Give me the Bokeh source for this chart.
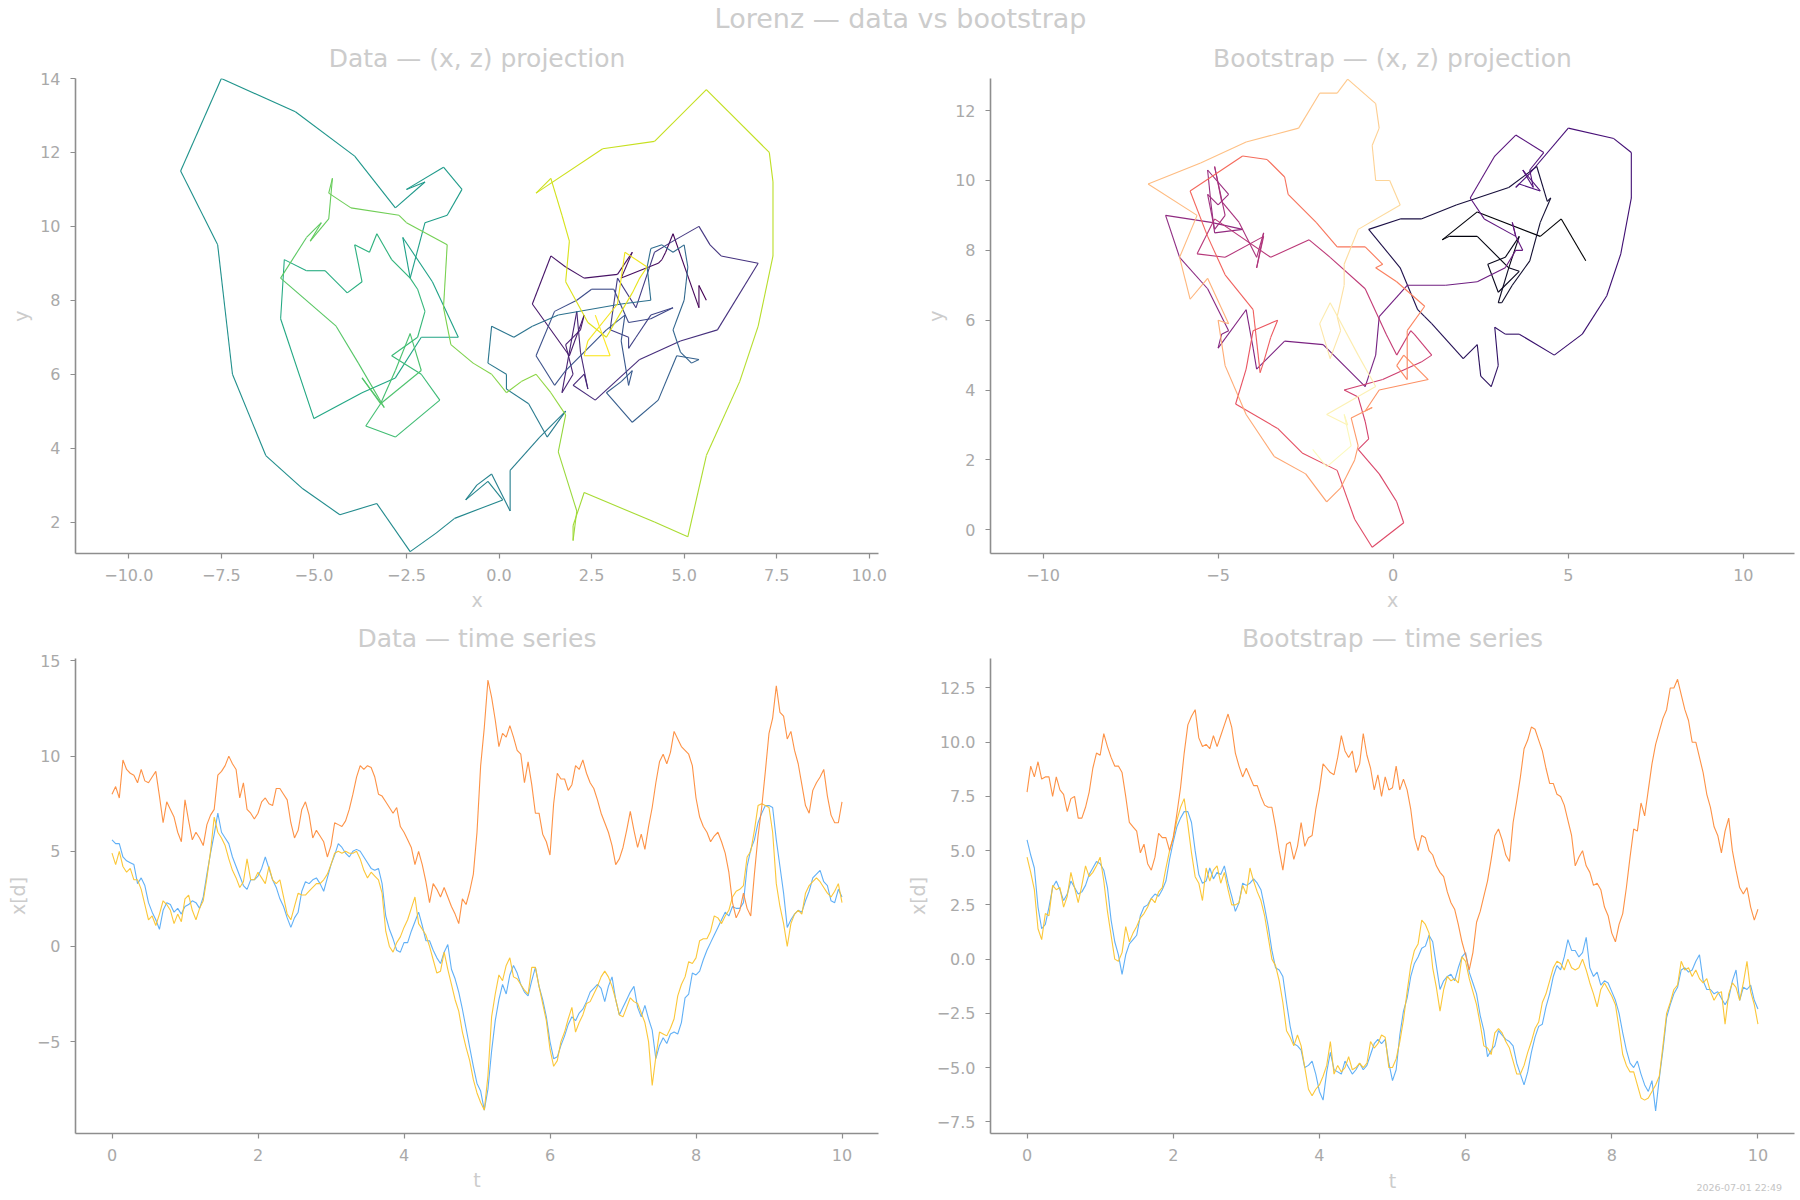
import numpy as np
from bokeh.plotting import figure
from bokeh.layouts import column, row
from bokeh.models import FixedTicker, Label, ColumnDataSource
from bokeh.palettes import Viridis256, Magma256
from bokeh.embed import file_html
from bokeh.resources import INLINE

DT = 0.05

data_x0 = [
    5.6, 5.4, 5.4, 4.7, 4.5, 4.4, 4.3, 3.3, 3.6, 3.2,
    2.3, 1.8, 1.4, 0.9, 1.9, 2.3, 2.2, 1.8, 2.0, 1.7,
    2.1, 2.2, 2.4, 2.3, 2.0, 2.6, 3.8, 4.9, 5.9, 7.0,
    6.0, 5.7, 5.4, 4.7, 4.2, 3.7, 3.2, 3.0, 3.5, 3.5,
    3.7, 4.1, 4.7, 4.1, 3.5, 3.1, 2.5, 2.1, 1.5, 1.0,
    1.5, 1.8, 2.9, 3.4, 3.3, 3.5, 3.6, 3.3, 2.9, 3.6,
    4.3, 4.8, 5.4, 5.2, 4.9, 4.7, 5.0, 5.1, 5.0, 4.7,
    4.4, 4.1, 4.0, 4.1, 3.3, 1.6, 0.9, 0.4, -0.2, -0.3,
    0.2, 0.2, 0.8, 1.3, 1.8, 1.1, 0.3, 0.3, -0.2, -0.6,
    -0.9, -0.3, 0.1, -1.2, -1.7, -2.4, -3.3, -4.3, -5.3, -6.3,
    -7.2, -7.6, -8.6, -7.5, -5.5, -3.9, -2.8, -2.0, -2.5, -1.5,
    -1.0, -1.4, -2.0, -2.4, -2.6, -1.8, -1.1, -2.1, -2.8, -3.7,
    -5.0, -5.9, -5.8, -5.2, -4.7, -4.1, -3.7, -3.9, -3.5, -3.3,
    -2.9, -2.4, -2.2, -2.0, -2.2, -2.9, -2.1, -1.6, -2.8, -3.6,
    -3.2, -2.8, -2.4, -2.1, -3.2, -3.7, -3.1, -3.8, -4.4, -5.9,
    -5.2, -4.8, -5.1, -4.6, -4.5, -4.6, -4.0, -2.7, -2.5, -1.4,
    -1.5, -1.3, -0.7, -0.2, 0.2, 0.6, 1.0, 1.4, 1.8, 1.6,
    2.1, 2.0, 2.0, 2.3, 4.2, 5.1, 5.6, 6.5, 7.0, 7.4,
    7.4, 7.3, 5.6, 4.2, 2.8, 1.0, 1.4, 1.7, 1.9, 1.8,
    2.4, 2.9, 3.6, 3.8, 4.0, 3.4, 3.2, 2.4, 2.3, 3.0,
    2.6,
]

data_x1 = [
    4.9, 4.3, 5.0, 4.2, 3.9, 4.1, 3.5, 3.5, 3.0, 2.2,
    1.4, 1.6, 1.1, 1.7, 2.4, 2.2, 1.9, 1.2, 1.7, 1.3,
    2.5, 2.7, 1.9, 1.4, 2.0, 2.4, 3.6, 5.0, 6.8, 6.0,
    5.7, 5.3, 4.6, 4.0, 3.6, 3.1, 3.4, 4.6, 3.5, 3.5,
    3.9, 3.6, 3.3, 4.2, 3.5, 3.3, 3.5, 2.6, 1.7, 1.4,
    2.1, 2.8, 2.7, 2.7, 2.9, 3.1, 3.3, 3.3, 3.5, 3.8,
    4.3, 4.9, 5.0, 4.9, 5.0, 4.9, 4.9, 5.0, 4.6, 4.0,
    3.6, 3.9, 3.7, 3.5, 2.8, 0.8, 0.0, -0.3, 0.2, 0.5,
    1.0, 1.4, 2.0, 2.6, 1.2, 0.9, 0.6, 0.0, -0.7, -1.4,
    -1.3, -0.3, -1.2, -2.0, -2.8, -3.4, -4.5, -5.3, -6.0, -7.0,
    -7.7, -8.2, -8.6, -6.8, -3.7, -2.5, -1.5, -1.8, -1.0, -0.6,
    -1.6, -1.7, -2.0, -2.3, -2.5, -1.1, -1.1, -2.1, -3.0, -3.9,
    -5.4, -6.3, -6.0, -5.0, -4.5, -3.8, -3.2, -4.5, -4.0, -3.6,
    -3.0, -2.9, -2.5, -2.1, -1.6, -1.3, -1.6, -2.1, -2.8, -3.6,
    -3.7, -3.2, -2.7, -2.9, -3.0, -3.5, -4.0, -5.0, -7.3, -5.8,
    -4.5, -4.6, -4.7, -4.3, -3.8, -2.6, -2.0, -1.6, -0.8, -0.9,
    -0.6, 0.3, 0.4, 0.4, 0.8, 1.6, 1.5, 1.2, 1.6, 1.9,
    2.6, 2.9, 3.0, 3.2, 4.7, 5.0, 6.1, 7.4, 7.5, 7.4,
    7.3, 6.0, 3.3, 2.1, 1.2, 0.0, 1.2, 1.7, 1.9, 1.7,
    2.8, 3.2, 3.4, 3.6, 3.4, 3.1, 2.8, 2.6, 2.9, 3.3,
    2.3,
]

data_x2 = [
    8.0, 8.4, 7.8, 9.8, 9.3, 9.1, 9.0, 8.6, 9.3, 8.7,
    8.6, 8.9, 9.2, 7.9, 6.5, 7.6, 7.2, 6.8, 6.0, 5.5,
    7.7, 6.6, 5.6, 6.0, 5.7, 5.3, 6.4, 6.9, 7.2, 9.0,
    9.2, 9.5, 10.0, 9.6, 9.3, 7.8, 8.6, 7.2, 7.0, 6.7,
    7.0, 7.6, 7.8, 7.5, 7.4, 8.3, 8.3, 8.0, 7.7, 6.5,
    5.7, 6.1, 7.2, 7.6, 6.9, 5.7, 6.1, 5.8, 5.5, 4.7,
    5.3, 6.5, 6.4, 6.3, 6.6, 7.2, 8.0, 8.9, 9.5, 9.3,
    9.5, 9.4, 8.9, 8.0, 7.9, 7.6, 7.3, 7.0, 7.3, 6.3,
    6.0, 5.6, 5.2, 4.3, 5.0, 4.3, 3.4, 2.3, 3.3, 3.0,
    2.6, 3.1, 2.6, 2.1, 1.7, 1.2, 2.5, 2.2, 2.9, 3.8,
    6.0, 9.5, 11.5, 14.0, 13.1, 11.9, 10.5, 11.2, 11.0, 11.6,
    11.0, 10.3, 10.1, 8.6, 9.7, 8.5, 7.0, 7.0, 5.9, 5.5,
    4.8, 7.5, 9.1, 8.8, 8.8, 8.2, 8.5, 9.5, 9.3, 9.8,
    9.1, 8.6, 8.3, 7.7, 7.0, 6.5, 6.0, 5.3, 4.3, 4.6,
    5.2, 6.1, 7.1, 6.1, 5.2, 5.9, 5.1, 6.3, 7.3, 8.6,
    9.7, 10.1, 9.6, 10.2, 11.3, 10.9, 10.5, 10.3, 10.1, 9.5,
    7.8, 6.8, 6.3, 6.0, 5.5, 5.8, 6.0, 5.5, 4.9, 3.9,
    2.3, 1.5, 1.9, 2.8, 2.0, 1.6, 3.8, 5.8, 7.3, 9.2,
    11.2, 12.0, 13.7, 12.3, 12.1, 10.9, 11.3, 10.3, 9.6, 8.5,
    7.4, 7.0, 8.2, 8.6, 8.9, 9.3, 7.9, 6.9, 6.5, 6.5,
    7.6,
]

boot_x0 = [
    5.5, 4.8, 4.2, 2.4, 1.4, 1.6, 2.4, 3.3, 3.6, 3.2,
    2.7, 3.0, 3.6, 3.3, 3.0, 3.1, 3.4, 3.9, 4.2, 4.5,
    4.4, 4.1, 3.3, 1.8, 0.8, 0.2, -0.7, 0.2, 0.7, 0.9,
    1.1, 2.0, 2.4, 2.5, 2.8, 3.0, 2.9, 3.2, 3.6, 4.6,
    5.4, 6.1, 6.5, 6.8, 6.8, 6.3, 5.0, 3.9, 3.5, 3.6,
    4.2, 3.7, 4.0, 3.9, 4.3, 3.5, 2.9, 2.2, 2.6, 3.5,
    3.4, 3.5, 3.7, 3.5, 3.2, 2.4, 1.5, 0.4, -0.4, -0.5,
    -0.8, -2.0, -3.1, -3.9, -4.0, -4.2, -5.0, -4.9, -4.7, -5.3,
    -6.1, -6.5, -5.2, -4.3, -5.1, -5.2, -5.3, -4.7, -5.0, -5.3,
    -5.1, -4.8, -5.1, -4.9, -4.4, -3.9, -3.7, -3.9, -3.7, -4.8,
    -5.6, -5.1, -3.5, -2.4, -1.8, -0.8, -0.2, 0.1, 0.5, 0.6,
    1.1, 0.8, -0.3, -1.4, -1.0, -0.8, -0.7, -1.0, -0.4, 0.1,
    0.3, -0.6, -1.1, -1.6, -2.6, -3.3, -4.5, -4.2, -4.0, -3.3,
    -3.5, -3.7, -3.8, -4.0, -4.8, -5.3, -5.8, -5.2, -4.3, -3.6,
    -3.1, -3.0, -2.2, -1.6, -0.8, -0.3, -0.5, 0.1, 0.9, 0.4,
    0.4, 0.1, 0.3, 1.0, -0.4, -0.8, -0.6, -1.2, -1.0, -1.1,
    -1.5, -1.9, -2.5, -3.4, -4.2, -4.8, -5.0, -4.7, -5.3, -5.8,
    -6.1, -5.6, -7.0, -5.5, -4.2, -2.7, -2.1, -1.6, -1.3, -0.5,
    -0.4, -0.6, -0.5, -0.1, 0.2, -1.0, -1.4, -1.4, -1.6, -1.5,
    -1.8, -2.1, -1.8, -1.0, -0.5, -1.9, -1.3, -1.4, -1.2, -1.9,
    -2.3,
]

boot_x1 = [
    4.7, 4.0, 3.2, 1.4, 0.9, 2.1, 2.0, 3.4, 3.2, 3.3,
    2.4, 2.9, 4.0, 3.3, 2.6, 3.4, 4.3, 3.8, 4.0, 4.3,
    4.7, 3.6, 2.2, 1.1, 0.0, -0.1, 0.3, 1.5, 0.8, 1.2,
    1.5, 1.9, 2.1, 2.4, 2.8, 2.6, 3.1, 3.3, 4.2, 5.0,
    5.6, 6.4, 7.0, 7.4, 6.2, 4.9, 3.8, 3.5, 2.7, 4.2,
    3.6, 4.1, 4.3, 3.5, 4.0, 3.2, 2.5, 2.5, 2.6, 3.4,
    3.0, 4.2, 3.6, 3.1, 2.7, 2.0, 1.0, 0.0, -0.3, -1.0,
    -2.0, -3.3, -3.6, -4.0, -3.5, -4.0, -5.0, -6.0, -6.3, -6.0,
    -5.8, -5.4, -4.9, -3.8, -5.3, -4.9, -5.2, -5.0, -4.5, -5.1,
    -5.0, -4.8, -5.0, -4.8, -3.8, -4.1, -3.9, -3.5, -3.6, -5.0,
    -5.0, -4.6, -3.8, -2.8, -1.5, -0.3, 0.4, 0.7, 1.8, 1.6,
    1.2, -0.4, -1.3, -2.4, -1.4, -0.8, -1.0, -0.9, -1.1, 0.1,
    -0.1, -0.9, -1.5, -2.1, -3.0, -4.0, -4.1, -4.4, -3.4, -3.2,
    -3.4, -3.8, -4.1, -4.7, -5.3, -5.3, -4.9, -4.3, -3.8, -3.2,
    -2.9, -2.0, -1.6, -1.0, -0.4, -0.1, -0.2, -0.5, 0.0, -0.4,
    -0.5, -0.4, 0.0, -0.5, -1.1, -1.6, -2.2, -1.4, -1.1, -1.4,
    -1.7, -2.1, -3.2, -4.4, -4.9, -5.2, -5.2, -5.8, -6.4, -6.5,
    -6.4, -6.1, -5.8, -5.4, -4.0, -2.5, -2.0, -1.4, -1.2, -0.1,
    -0.5, -0.4, -0.8, -0.5, -0.9, -1.1, -0.9, -1.5, -1.9, -1.6,
    -1.5, -3.0, -1.6, -1.1, -1.3, -1.9, -1.1, -0.1, -1.5, -2.1,
    -3.0,
]

boot_x2 = [
    7.7, 8.9, 8.4, 9.1, 8.3, 8.4, 8.4, 7.5, 8.4, 7.8,
    7.6, 6.8, 7.4, 7.5, 6.5, 6.5, 7.0, 7.7, 8.8, 9.5,
    9.4, 10.4, 9.8, 9.3, 8.9, 8.9, 8.6, 7.5, 6.3, 6.1,
    5.9, 4.9, 5.3, 4.4, 4.1, 4.7, 5.8, 5.6, 5.6, 5.0,
    5.6, 6.7, 7.9, 9.5, 10.8, 11.2, 11.5, 10.2, 9.8, 9.9,
    9.7, 10.3, 9.8, 10.3, 10.8, 11.3, 10.7, 9.5, 8.9, 8.4,
    8.8, 8.4, 8.0, 8.0, 7.5, 7.1, 7.0, 7.0, 6.1, 5.0,
    4.1, 5.3, 5.4, 4.6, 5.2, 6.3, 5.2, 5.6, 5.7, 6.9,
    7.8, 9.0, 8.8, 8.6, 8.5, 9.3, 10.3, 9.6, 9.3, 9.6,
    8.6, 9.0, 10.4, 9.4, 8.8, 7.8, 8.5, 7.5, 8.4, 7.8,
    7.9, 8.9, 7.8, 8.3, 7.8, 6.9, 5.6, 5.0, 5.7, 5.6,
    5.0, 4.8, 4.3, 4.0, 3.8, 3.1, 2.6, 2.3, 1.6, 0.8,
    0.2, -0.5, 0.3, 1.7, 2.2, 2.9, 3.6, 4.6, 5.7, 6.0,
    5.5, 4.8, 4.5, 6.3, 7.3, 8.4, 9.7, 10.1, 10.7, 10.6,
    10.1, 9.6, 8.8, 8.1, 8.1, 7.6, 7.5, 7.1, 6.4, 5.7,
    4.3, 4.7, 5.0, 4.3, 4.0, 3.4, 3.5, 3.2, 2.4, 2.0,
    1.2, 0.8, 1.6, 2.1, 3.3, 4.7, 6.0, 5.9, 7.2, 6.6,
    7.8, 9.0, 9.9, 10.5, 11.1, 11.5, 12.5, 12.5, 12.9, 12.2,
    11.5, 11.0, 10.0, 10.0, 9.3, 8.6, 7.6, 7.0, 6.1, 5.7,
    4.9, 5.9, 6.5, 5.0, 4.1, 3.3, 3.0, 3.3, 2.4, 1.8,
    2.3,
]

# tick positions and labels
TL_XT = [-10, -7.5, -5, -2.5, 0, 2.5, 5, 7.5, 10]
TL_XL = ["\u221210.0", "\u22127.5", "\u22125.0", "\u22122.5", "0.0", "2.5", "5.0", "7.5", "10.0"]
TL_YT = [2, 4, 6, 8, 10, 12, 14]
TL_YL = ["2", "4", "6", "8", "10", "12", "14"]
TR_XT = [-10, -5, 0, 5, 10]
TR_XL = ["\u221210", "\u22125", "0", "5", "10"]
TR_YT = [0, 2, 4, 6, 8, 10, 12]
TR_YL = ["0", "2", "4", "6", "8", "10", "12"]
BL_XT = [0, 2, 4, 6, 8, 10]
BL_XL = ["0", "2", "4", "6", "8", "10"]
BL_YT = [-5, 0, 5, 10, 15]
BL_YL = ["\u22125", "0", "5", "10", "15"]
BR_XT = [0, 2, 4, 6, 8, 10]
BR_XL = ["0", "2", "4", "6", "8", "10"]
BR_YT = [-7.5, -5, -2.5, 0, 2.5, 5, 7.5, 10, 12.5]
BR_YL = ["\u22127.5", "\u22125.0", "\u22122.5", "0.0", "2.5", "5.0", "7.5", "10.0", "12.5"]

SERIES_COLORS = ["#58acf5", "#fbc42e", "#fd8c3c"]
STAMP = "2026-07-01 22:49"

FONT = "DejaVu Sans"
TITLE_COL = "#cccccc"
TICK_COL = "#a9a9a9"
AXIS_COL = "#8e8e8e"


def key(v):
    return int(v) if float(v).is_integer() else float(v)


def make_panel(title, xr, yr, w, h, borders, xt, xl, yt, yl, xlab, ylab):
    p = figure(width=w, height=h, x_range=xr, y_range=yr, title=title,
               output_backend="svg", toolbar_location=None,
               min_border_left=borders[0], min_border_right=borders[1],
               min_border_top=borders[2], min_border_bottom=borders[3])
    p.title.align = "center"
    p.title.text_font = FONT
    p.title.text_font_size = "25px"
    p.title.text_font_style = "normal"
    p.title.text_color = TITLE_COL
    p.title.standoff = 12
    p.outline_line_color = None
    p.grid.visible = False
    p.background_fill_color = "white"
    p.border_fill_color = "white"
    p.xaxis.ticker = FixedTicker(ticks=xt)
    p.xaxis.major_label_overrides = {key(t): s for t, s in zip(xt, xl)}
    p.yaxis.ticker = FixedTicker(ticks=yt)
    p.yaxis.major_label_overrides = {key(t): s for t, s in zip(yt, yl)}
    if xlab:
        p.xaxis.axis_label = xlab
    p.yaxis.axis_label = ylab
    for ax in (p.xaxis, p.yaxis):
        ax.axis_line_color = AXIS_COL
        ax.axis_line_width = 1.6
        ax.major_tick_line_color = AXIS_COL
        ax.major_tick_line_width = 1.2
        ax.major_tick_in = 0
        ax.major_tick_out = 5
        ax.minor_tick_line_color = None
        ax.major_label_text_font = FONT
        ax.major_label_text_font_size = "16px"
        ax.major_label_text_color = TICK_COL
        ax.major_label_standoff = 10
        ax.axis_label_text_font = FONT
        ax.axis_label_text_font_size = "19px"
        ax.axis_label_text_font_style = "normal"
        ax.axis_label_text_color = TITLE_COL
        ax.axis_label_standoff = 5
    return p


def projection(p, xs, ys, palette):
    n = len(xs)
    cols = [palette[int(round(i / (n - 2) * 255))] for i in range(n - 1)]
    src = ColumnDataSource(dict(x0=xs[:-1], y0=ys[:-1], x1=xs[1:], y1=ys[1:], c=cols))
    p.segment("x0", "y0", "x1", "y1", source=src, line_color="c", line_width=1.1)


def timeseries(p, series):
    for s, c in zip(series, SERIES_COLORS):
        t = [i * DT for i in range(len(s))]
        p.line(t, s, line_color=c, line_width=1.1, line_alpha=0.95)


def bare(width, height, xr, yr, left=0, right=0):
    f = figure(width=width, height=height, x_range=xr, y_range=yr,
               x_axis_type=None, y_axis_type=None, toolbar_location=None,
               output_backend="svg", min_border=0,
               min_border_left=left, min_border_right=right)
    f.outline_line_color = None
    f.grid.visible = False
    return f


# ---------------- layout ----------------
W = 900
H_HEAD = 34
H_TOP = 580
H_BOT = 586
H_FOOT = 33

tl = make_panel("Data \u2014 (x, z) projection", (-11.44, 10.25), (1.15, 14.0), W, H_TOP,
                (75, 22, 44, 61), TL_XT, TL_XL, TL_YT, TL_YL, "x", "y")
projection(tl, data_x0, data_x2, Viridis256)

tr = make_panel("Bootstrap \u2014 (x, z) projection", (-11.5, 11.46), (-0.68, 12.92), W, H_TOP,
                (90, 6, 44, 61), TR_XT, TR_XL, TR_YT, TR_YL, "x", "y")
projection(tr, boot_x0, boot_x2, Magma256)

bl = make_panel("Data \u2014 time series", (-0.5, 10.5), (-9.83, 15.13), W, H_BOT,
                (75, 22, 44, 67), BL_XT, BL_XL, BL_YT, BL_YL, "t", "x[d]")
timeseries(bl, [data_x0, data_x1, data_x2])

BR_X = (-0.5, 10.5)
br = make_panel("Bootstrap \u2014 time series", BR_X, (-8.04, 13.86), W, H_BOT - H_FOOT,
                (90, 6, 44, 34), BR_XT, BR_XL, BR_YT, BR_YL, None, "x[d]")
timeseries(br, [boot_x0, boot_x1, boot_x2])

# footer strip under the bottom-right panel (same horizontal frame): x-axis label and timestamp
foot = bare(W, H_FOOT, BR_X, (0, H_FOOT), left=90, right=6)
foot.add_layout(Label(x=5.0, y=20, text="t", text_align="center", text_baseline="middle",
                      text_font=FONT, text_font_size="19px", text_color=TITLE_COL))
foot.add_layout(Label(x=10.33, y=13, text=STAMP, text_align="right", text_baseline="middle",
                      text_font=FONT, text_font_size="9.5px", text_color="#c4c4c4"))

head = bare(1800, H_HEAD, (0, 1800), (0, H_HEAD))
head.add_layout(Label(x=900, y=15.6, text="Lorenz \u2014 data vs bootstrap", text_align="center",
                      text_baseline="middle", text_font=FONT, text_font_size="27px",
                      text_color=TITLE_COL))

layout = column(head, row(tl, tr), row(bl, column(br, foot)))

open("out.html", "w").write(file_html(layout, INLINE, title="Lorenz \u2014 data vs bootstrap"))
